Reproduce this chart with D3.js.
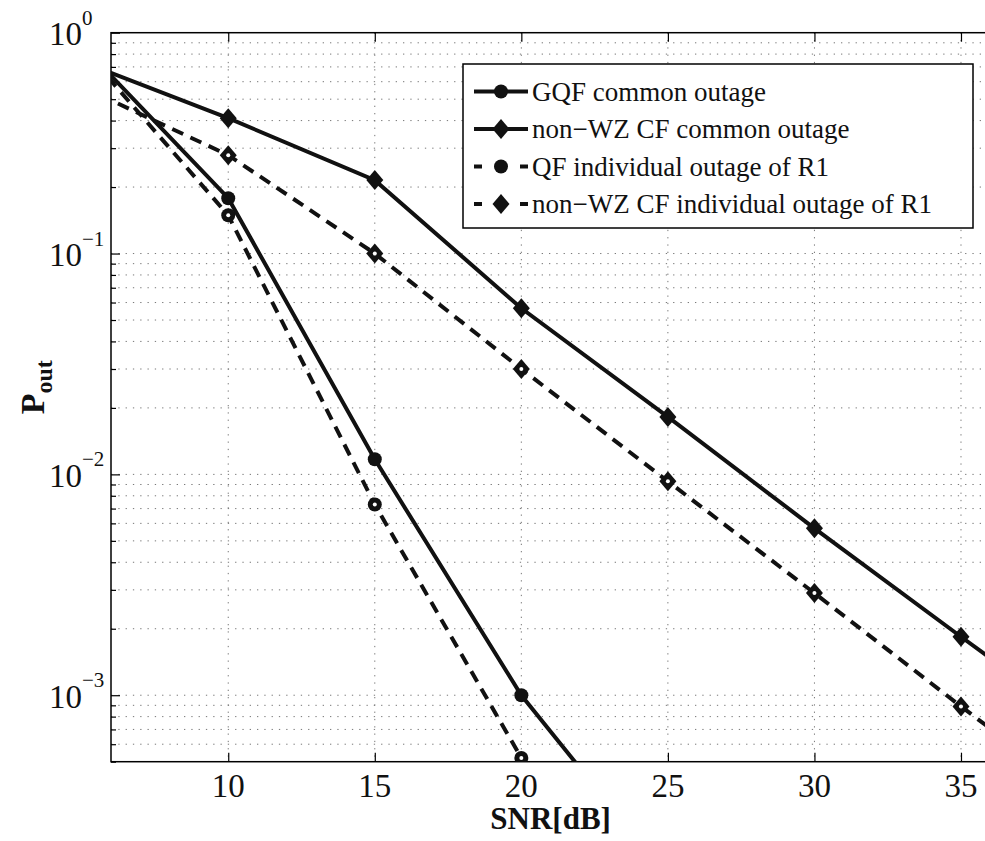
<!DOCTYPE html>
<html>
<head>
<meta charset="utf-8">
<script src="https://cdn.jsdelivr.net/npm/d3@7"></script>
<style>
  body { margin: 0; background: #fff; }
  svg { display: block; font-family: "Liberation Serif", "Times New Roman", serif; }
</style>
</head>
<body>
<script>
// SNR points (dB) and outage probabilities
const snr = [5, 10, 15, 20, 25, 30, 35, 40];
const gqfCommon = [0.88, 0.178, 0.0117, 0.001, 0.00015];
const nonwzCommon = [0.74, 0.41, 0.215, 0.0565, 0.0182, 0.0057, 0.00184, 0.0006];
const qfIndividual = [0.86, 0.149, 0.0073, 0.00052, 0.00004];
const nonwzIndividual = [0.57, 0.279, 0.1, 0.030, 0.0093, 0.0029, 0.00089, 0.00028];

const seriesNames = [
  "GQF common outage",
  "non\u2212WZ CF common outage",
  "QF individual outage of R1",
  "non\u2212WZ CF individual outage of R1"
];
const xTicks = [10, 15, 20, 25, 30, 35];
const yExponents = [0, -1, -2, -3];

const series = [
  { name: seriesNames[0], values: gqfCommon, marker: "circle", dashed: false },
  { name: seriesNames[1], values: nonwzCommon, marker: "diamond", dashed: false },
  { name: seriesNames[2], values: qfIndividual, marker: "circle", dashed: true },
  { name: seriesNames[3], values: nonwzIndividual, marker: "diamond", dashed: true }
];

const W = 985, H = 841;
const plotL = 111, plotT = 32.7, plotB = 761.7, plotR = 990.3;

const svg = d3.select("body").append("svg")
    .attr("width", W)
    .attr("height", H);

const x = d3.scaleLinear().domain([6, 36]).range([plotL, plotR]);
const y = d3.scaleLog().domain([5e-4, 1]).range([plotB, plotT]);

svg.append("defs").append("clipPath")
    .attr("id", "plotclip")
  .append("rect")
    .attr("x", plotL).attr("y", plotT)
    .attr("width", plotR - plotL).attr("height", plotB - plotT);

// grid values: majors + minors of each decade
const yGrid = [];
[-4, -3, -2, -1].forEach(e => {
  for (let m = 1; m <= 9; m++) {
    const v = m * Math.pow(10, e);
    if (v >= 5e-4 && v < 1) yGrid.push(v);
  }
});

const grid = svg.append("g")
    .attr("stroke", "#777")
    .attr("stroke-width", 1)
    .attr("stroke-dasharray", "1.3,6");

grid.selectAll(".hg")
    .data(yGrid.filter(v => v > 5e-4))
  .enter().append("line")
    .attr("x1", plotL).attr("x2", plotR)
    .attr("y1", d => y(d)).attr("y2", d => y(d));

grid.selectAll(".vg")
    .data(xTicks)
  .enter().append("line")
    .attr("x1", d => x(d)).attr("x2", d => x(d))
    .attr("y1", plotT).attr("y2", plotB);

// axes, MATLAB style ticks pointing inward
const axisB = d3.axisBottom(x).tickValues(xTicks).tickSizeInner(-9).tickSizeOuter(0).tickFormat("");
const axisT = d3.axisTop(x).tickValues(xTicks).tickSizeInner(-9).tickSizeOuter(0).tickFormat("");
const yMajor = yExponents.map(e => Math.pow(10, e));
const axisLMajor = d3.axisLeft(y).tickValues(yMajor).tickSizeInner(-9).tickSizeOuter(0).tickFormat("");
const axisLMinor = d3.axisLeft(y).tickValues(yGrid.filter(v => !yMajor.includes(v))).tickSizeInner(-5).tickSizeOuter(0).tickFormat("");

[
  [axisB, `translate(0,${plotB})`],
  [axisT, `translate(0,${plotT})`],
  [axisLMajor, `translate(${plotL},0)`],
  [axisLMinor, `translate(${plotL},0)`]
].forEach(([ax, tr]) => {
  const g = svg.append("g").attr("transform", tr).call(ax);
  g.select(".domain").remove();
  g.selectAll("line").attr("stroke", "#000").attr("stroke-width", 1.2);
});

svg.append("rect")
    .attr("x", plotL).attr("y", plotT)
    .attr("width", plotR - plotL).attr("height", plotB - plotT)
    .attr("fill", "none")
    .attr("stroke", "#000")
    .attr("stroke-width", 1.5);

// x tick labels
svg.append("g").selectAll("text")
    .data(xTicks)
  .enter().append("text")
    .attr("x", d => x(d))
    .attr("y", 797)
    .attr("text-anchor", "middle")
    .style("font-size", "33px")
    .attr("fill", "#111")
    .text(d => d);

// y tick labels 10^e
const yl = svg.append("g").selectAll("g")
    .data(yExponents)
  .enter().append("g");
yl.append("text")
    .attr("x", 82)
    .attr("y", d => y(Math.pow(10, d)) + 12.5)
    .attr("text-anchor", "end")
    .style("font-size", "33px")
    .attr("fill", "#111")
    .text("10");
yl.append("text")
    .attr("x", 82)
    .attr("y", d => y(Math.pow(10, d)) - 8)
    .style("font-size", "21px")
    .attr("fill", "#111")
    .text(d => d === 0 ? "0" : "\u2212" + Math.abs(d));

// axis labels
svg.append("text")
    .attr("x", (plotL + plotR) / 2)
    .attr("y", 829)
    .attr("text-anchor", "middle")
    .style("font-size", "31px")
    .style("font-weight", "bold")
    .attr("fill", "#111")
    .text("SNR[dB]");

const ylab = svg.append("text")
    .attr("transform", `translate(44,${(plotT + plotB) / 2 - 10}) rotate(-90)`)
    .attr("text-anchor", "middle")
    .style("font-weight", "bold")
    .attr("fill", "#111");
ylab.append("tspan").style("font-size", "34px").text("P");
ylab.append("tspan").style("font-size", "24px").attr("dy", 8).text("out");

// data lines
const line = d3.line()
    .x((d, i) => x(snr[i]))
    .y(d => y(d));

const plot = svg.append("g").attr("clip-path", "url(#plotclip)");

function drawMarker(g, type, cx, cy, hollow) {
  if (type === "circle") {
    g.append("circle")
        .attr("cx", cx).attr("cy", cy).attr("r", 7)
        .attr("fill", "#111");
  } else {
    g.append("path")
        .attr("d", `M${cx},${cy - 10}L${cx + 8.5},${cy}L${cx},${cy + 10}L${cx - 8.5},${cy}Z`)
        .attr("fill", "#111");
  }
  if (hollow) {
    g.append("circle")
        .attr("cx", cx).attr("cy", cy).attr("r", 2)
        .attr("fill", "#fff");
  }
}

series.forEach(s => {
  plot.append("path")
      .datum(s.values)
      .attr("d", line)
      .attr("fill", "none")
      .attr("stroke", "#111")
      .attr("stroke-width", 4)
      .attr("stroke-dasharray", s.dashed ? "12,8" : null);
  s.values.forEach((v, i) => drawMarker(plot, s.marker, x(snr[i]), y(v), s.dashed));
});

// legend
const lg = svg.append("g");
lg.append("rect")
    .attr("x", 463).attr("y", 64)
    .attr("width", 510).attr("height", 164)
    .attr("fill", "#fff")
    .attr("stroke", "#000")
    .attr("stroke-width", 1.5);

const rowY = [91.5, 129, 166.5, 204];
series.forEach((s, i) => {
  const ry = rowY[i];
  if (s.dashed) {
    lg.append("line").attr("x1", 474).attr("x2", 482).attr("y1", ry).attr("y2", ry)
        .attr("stroke", "#111").attr("stroke-width", 4);
    lg.append("line").attr("x1", 520).attr("x2", 528).attr("y1", ry).attr("y2", ry)
        .attr("stroke", "#111").attr("stroke-width", 4);
  } else {
    lg.append("line").attr("x1", 474).attr("x2", 528).attr("y1", ry).attr("y2", ry)
        .attr("stroke", "#111").attr("stroke-width", 4);
  }
  drawMarker(lg, s.marker, 501, ry, false);
  lg.append("text")
      .attr("x", 532)
      .attr("y", ry + 9)
      .style("font-size", "27px")
      .attr("fill", "#111")
      .text(s.name);
});
</script>
</body>
</html>
